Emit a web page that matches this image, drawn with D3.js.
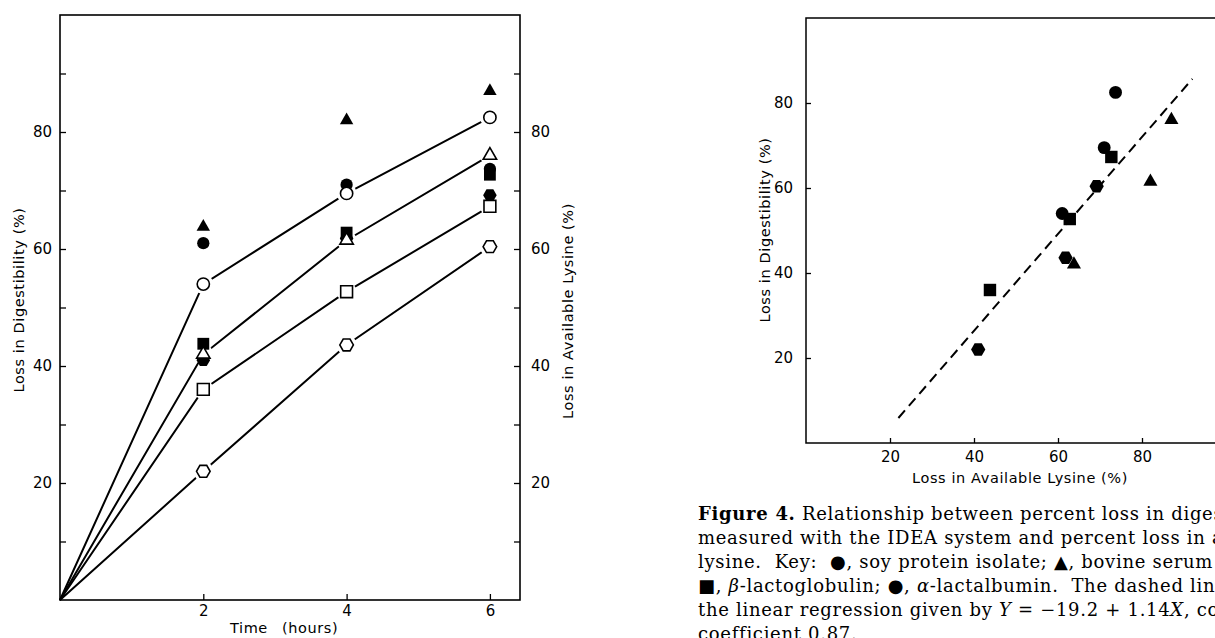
<!DOCTYPE html>
<html>
<head>
<meta charset="utf-8">
<script src="https://cdn.jsdelivr.net/npm/d3@7"></script>
<style>
body { margin: 0; background: #fff; }
svg { display: block; }
</style>
</head>
<body>
<script>
// values
var hours = [2, 4, 6];
var proteinNames = ["soy protein isolate", "bovine serum albumin", "β-lactoglobulin", "α-lactalbumin"];
var proteinShapes = ["circle", "triangle", "square", "hexagon"];

// loss in digestibility (%), open symbols, left axis
var digSoy = [54, 69.5, 82.5];
var digBsa = [42, 61.5, 76];
var digBlg = [36, 52.7, 67.3];
var digAla = [22, 43.6, 60.4];

// loss in available lysine (%), filled symbols, right axis
var lysSoy = [61, 71, 73.7];
var lysBsa = [63.8, 82, 87];
var lysBlg = [43.8, 62.8, 72.7];
var lysAla = [41, 61.8, 69.2];

var yTicks = [10, 20, 30, 40, 50, 60, 70, 80, 90];
var xTicksRight = [20, 40, 60, 80];
var yTicksRight = [20, 40, 60, 80];

// regression from the caption
var regIntercept = -19.2;
var regSlope = 1.14;
var regRange = [22, 92];

var series = [
    {shape: proteinShapes[0], dig: digSoy, lys: lysSoy},
    {shape: proteinShapes[1], dig: digBsa, lys: lysBsa},
    {shape: proteinShapes[2], dig: digBlg, lys: lysBlg},
    {shape: proteinShapes[3], dig: digAla, lys: lysAla}
];

var width = 1215, height = 638;
var sansFont = "'DejaVu Sans', sans-serif";

var svg = d3.select("body").append("svg")
    .attr("width", width)
    .attr("height", height)
    .style("background", "#fff");

function symbolPath(shape, k) {
    k = k || 1;
    if (shape == "hexagon") {
        var r = 6.8 * k;
        var pts = d3.range(6).map(i => [r * Math.cos(i * Math.PI / 3), r * Math.sin(i * Math.PI / 3)]);
        return d3.line()(pts) + "Z";
    }
    var types = {circle: [d3.symbolCircle, 118], triangle: [d3.symbolTriangle, 78], square: [d3.symbolSquare, 140]};
    return d3.symbol(types[shape][0], types[shape][1] * k * k)();
}

// ---------- left chart ----------
var x = d3.scaleLinear().domain([0, 6.42]).range([60, 520]);
var y = d3.scaleLinear().domain([0, 100]).range([600, 15]);

var left = svg.append("g");

left.append("rect")
    .attr("x", x(0)).attr("y", y(100))
    .attr("width", x(6.42) - x(0)).attr("height", y(0) - y(100))
    .attr("fill", "none").attr("stroke", "#000").attr("stroke-width", 1.6);

var yAxisL = left.append("g")
    .attr("transform", "translate(" + x(0) + ",0)")
    .call(d3.axisLeft(y).tickValues(yTicks).tickSize(-6).tickPadding(8).tickFormat(d => d % 20 ? "" : d));

var yAxisR = left.append("g")
    .attr("transform", "translate(" + x(6.42) + ",0)")
    .call(d3.axisRight(y).tickValues(yTicks).tickSize(-6).tickPadding(11).tickFormat(d => d % 20 ? "" : d));

var xAxis = left.append("g")
    .attr("transform", "translate(0," + y(0) + ")")
    .call(d3.axisBottom(x).tickValues(hours).tickSize(-6).tickPadding(5).tickFormat(d3.format("d")));

[yAxisL, yAxisR, xAxis].forEach(a => {
    a.select(".domain").remove();
    a.selectAll("line").attr("stroke", "#000").attr("stroke-width", 1.3);
    a.selectAll("text").style("font-family", sansFont).style("font-size", "15px").attr("fill", "#000");
});

var line = d3.line().x(d => x(d[0])).y(d => y(d[1]));

series.forEach(s => {
    var pts = [[0, 0]].concat(hours.map((h, i) => [h, s.dig[i]]));
    left.append("path")
        .attr("d", line(pts))
        .attr("fill", "none")
        .attr("stroke", "#000")
        .attr("stroke-width", 2);
});

// white gaps round the open symbols, like the drawing
series.forEach(s => {
    hours.forEach((h, i) => {
        left.append("circle")
            .attr("cx", x(h)).attr("cy", y(s.dig[i]))
            .attr("r", 10).attr("fill", "#fff");
    });
});

series.forEach(s => {
    hours.forEach((h, i) => {
        left.append("path")
            .attr("d", symbolPath(s.shape))
            .attr("transform", "translate(" + x(h) + "," + y(s.lys[i]) + ")")
            .attr("fill", "#000");
    });
});

series.forEach(s => {
    hours.forEach((h, i) => {
        left.append("path")
            .attr("d", symbolPath(s.shape))
            .attr("transform", "translate(" + x(h) + "," + y(s.dig[i]) + ")")
            .attr("fill", "#fff")
            .attr("stroke", "#000")
            .attr("stroke-width", 1.6);
    });
});

function axisTitle(g, tx, ty, rot, txt) {
    return g.append("text")
        .attr("transform", "translate(" + tx + "," + ty + ") rotate(" + rot + ")")
        .attr("text-anchor", "middle")
        .attr("dominant-baseline", "central")
        .style("font-family", sansFont)
        .style("font-size", "14.5px")
        .style("letter-spacing", "0.6px")
        .text(txt);
}

axisTitle(left, 19, 300, -90, "Loss in Digestibility (%)");
axisTitle(left, 568, 311, -90, "Loss in Available Lysine (%)");

var timeLabel = left.append("text")
    .attr("x", 230).attr("y", 628)
    .attr("dominant-baseline", "central")
    .style("font-family", sansFont)
    .style("font-size", "14.5px")
    .style("letter-spacing", "0.6px")
    .text("Time");
timeLabel.append("tspan").attr("dx", 14).text("(hours)");

// ---------- right chart ----------
var x2 = d3.scaleLinear().domain([0, 100]).range([806, 1226]);
var y2 = d3.scaleLinear().domain([0, 100]).range([443, 18]);

var right = svg.append("g");

right.append("rect")
    .attr("x", x2(0)).attr("y", y2(100))
    .attr("width", x2(100) - x2(0)).attr("height", y2(0) - y2(100))
    .attr("fill", "none").attr("stroke", "#000").attr("stroke-width", 1.5);

var x2Axis = right.append("g")
    .attr("transform", "translate(0," + y2(0) + ")")
    .call(d3.axisBottom(x2).tickValues(xTicksRight).tickSize(-5).tickPadding(8));

var y2Axis = right.append("g")
    .attr("transform", "translate(" + x2(0) + ",0)")
    .call(d3.axisLeft(y2).tickValues(yTicksRight).tickSize(-5).tickPadding(13));

[x2Axis, y2Axis].forEach(a => {
    a.select(".domain").remove();
    a.selectAll("line").attr("stroke", "#000").attr("stroke-width", 1.3);
    a.selectAll("text").style("font-family", sansFont).style("font-size", "15px").attr("fill", "#000");
});

right.append("path")
    .attr("d", d3.line().x(d => x2(d)).y(d => y2(regIntercept + regSlope * d))(regRange))
    .attr("fill", "none")
    .attr("stroke", "#000")
    .attr("stroke-width", 2)
    .attr("stroke-dasharray", "10,6");

series.forEach(s => {
    hours.forEach((h, i) => {
        right.append("path")
            .attr("d", symbolPath(s.shape, 1.05))
            .attr("transform", "translate(" + x2(s.lys[i]) + "," + y2(s.dig[i]) + ")")
            .attr("fill", "#000");
    });
});

axisTitle(right, 765, 230, -90, "Loss in Digestibility (%)");
axisTitle(right, 1020, 478, 0, "Loss in Available Lysine (%)");

// ---------- caption ----------
var captionLines = [
    [["Figure 4.", "b"], [" Relationship between percent loss in digestibility", ""]],
    [["measured with the IDEA system and percent loss in available", ""]],
    [["lysine.  Key:  ●, soy protein isolate; ▲, bovine serum albumin;", ""]],
    [["■, ", ""], ["β", "i"], ["-lactoglobulin; ●, ", ""], ["α", "i"], ["-lactalbumin.  The dashed line represents", ""]],
    [["the linear regression given by ", ""], ["Y", "i"], [" = −19.2 + 1.14", ""], ["X", "i"], [", correlation", ""]],
    [["coefficient 0.87.", ""]]
];

var caption = svg.append("g")
    .style("font-family", "'DejaVu Serif', serif")
    .style("font-size", "18px")
    .style("letter-spacing", "0.7px");

captionLines.forEach((parts, li) => {
    var t = caption.append("text")
        .attr("x", 698)
        .attr("y", 520 + li * 24)
        .attr("xml:space", "preserve")
        .style("white-space", "pre");
    parts.forEach(p => {
        t.append("tspan")
            .style("font-weight", p[1] == "b" ? "bold" : "normal")
            .style("font-style", p[1] == "i" ? "italic" : "normal")
            .text(p[0]);
    });
});
</script>
</body>
</html>
